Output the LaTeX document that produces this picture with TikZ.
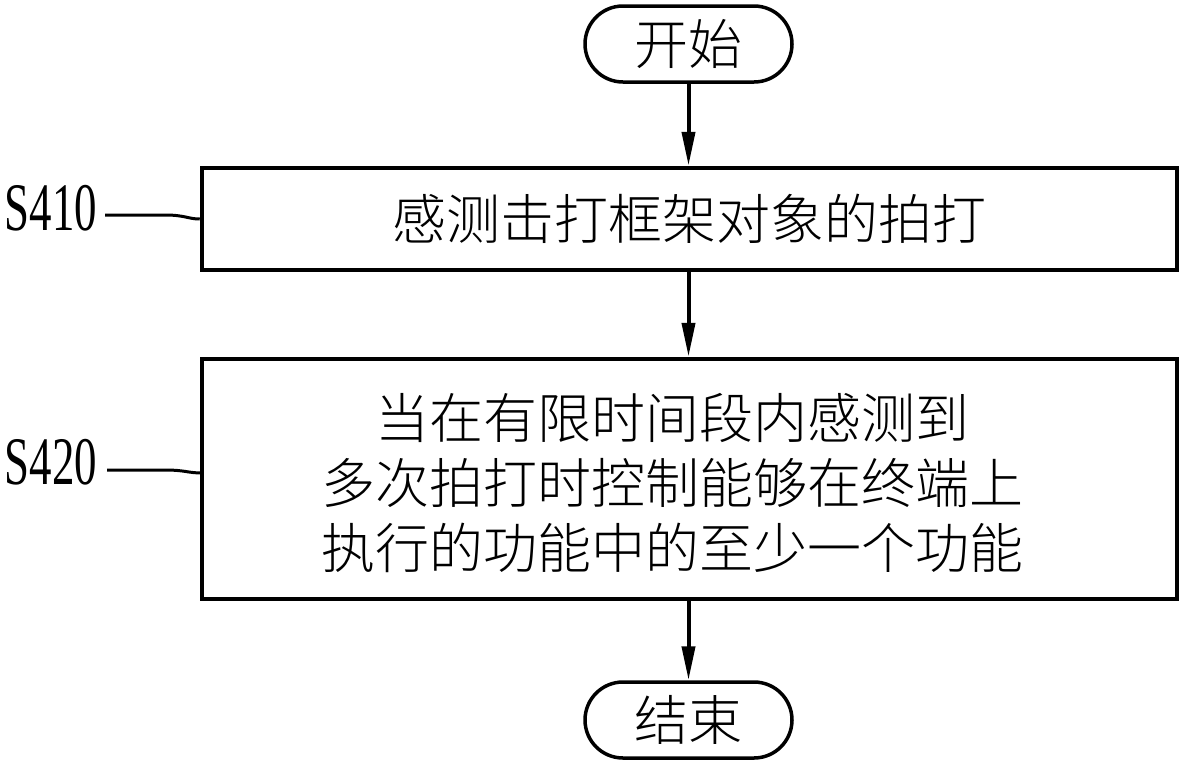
\documentclass[tikz,border=0pt]{standalone}
\usepackage{fontspec}
\setmainfont{Liberation Serif}
\newfontfamily\cjk{Noto Sans CJK SC Light}
\usetikzlibrary{arrows.meta}
\begin{document}
\begin{tikzpicture}[x=1pt,y=-1pt,
  box/.style={draw,line width=4.5pt,inner sep=0pt},
  term/.style={draw,line width=3.5pt,rounded corners=38pt,inner sep=0pt,minimum width=207pt,minimum height=76pt},
  txt/.style={font=\cjk\fontsize{54}{65}\selectfont,inner sep=0pt,align=center},
  flow/.style={line width=4pt,-{Triangle[length=34pt,width=13pt]}},
  lab/.style={font=\fontsize{68}{68}\selectfont,inner sep=0pt},
  lead/.style={line width=3pt}]
\useasboundingbox (0,0) rectangle (1183,766);
% terminals
\node[term,txt] (start) at (688.5,44) {开始};
\node[term,txt] (end) at (688.5,720) {结束};
% process boxes
\node[box,txt,minimum width=975pt,minimum height=102pt] (s410) at (689.5,219) {感测击打框架对象的拍打};
\node[box,minimum width=975pt,minimum height=240pt] (s420) at (689.5,479) {};
\node[txt] (s420txt) at (672,483) {当在有限时间段内感测到\\多次拍打时控制能够在终端上\\执行的功能中的至少一个功能};
% connectors
\draw[flow] (start.south) -- (start.south |- s410.north);
\draw[flow] (start.south |- s410.south) -- (start.south |- s420.north);
\draw[flow] (start.south |- s420.south) -- (end.north);
% step labels
\node[lab] (l410) at (51,208) {\scalebox{0.66}[1]{S410}};
\node[lab] (l420) at (51,462) {\scalebox{0.66}[1]{S420}};
\coordinate (l410end) at (105,215);
\coordinate (l420end) at (107,470);
\coordinate (s420in) at (202,473);
\draw[lead] (l410end) -- (165,215) .. controls (185,215) and (188,219) .. (s410.west);
\draw[lead] (l420end) -- (165,470) .. controls (185,470) and (188,473) .. (s420in);
\end{tikzpicture}
\end{document}
